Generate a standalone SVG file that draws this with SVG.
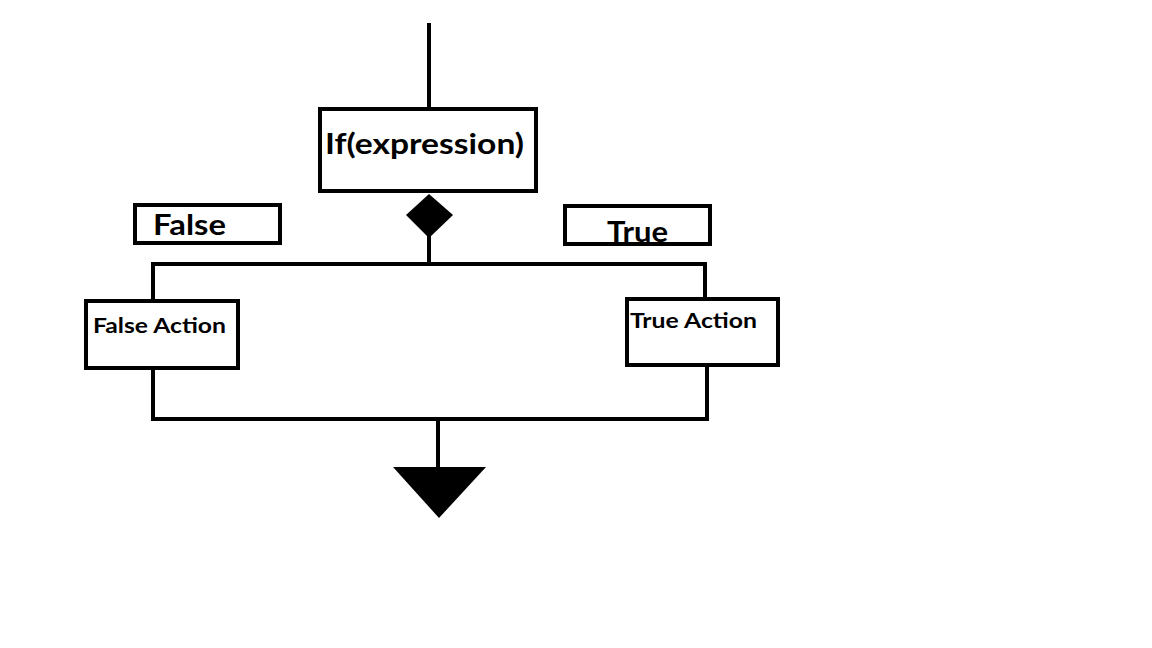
<svg xmlns="http://www.w3.org/2000/svg" width="1152" height="648" viewBox="0 0 1152 648">
<style>
.box{fill:#fff;stroke:#000;stroke-width:4}
.ln{fill:none;stroke:#000;stroke-width:4}
.t{font-family:Lato,"Open Sans","Liberation Sans",sans-serif;font-weight:bold;fill:#000}
</style>
<rect width="1152" height="648" fill="#fff"/>
<g id="connectors">
<line class="ln" x1="429" y1="23" x2="429" y2="109"/>
<line class="ln" x1="429" y1="236" x2="429" y2="264"/>
<polyline class="ln" points="153,300 153,264 705,264 705,299"/>
<polyline class="ln" points="153,368 153,419 707,419 707,365"/>
<line class="ln" x1="438" y1="419" x2="438" y2="468"/>
<polygon points="393,467 486,467 439,518" fill="#000"/>
<polygon points="429,194 453,215 429,238 406,215" fill="#000"/>
</g>
<g id="node-if">
<rect class="box" x="320" y="109" width="216" height="82"/>
<text class="t" x="325" y="154" font-size="29" textLength="199" lengthAdjust="spacingAndGlyphs">If(expression)</text>
</g>
<g id="node-false">
<rect class="box" x="135" y="205" width="145" height="38"/>
<text class="t" x="153" y="235" font-size="28" textLength="73" lengthAdjust="spacingAndGlyphs">False</text>
</g>
<g id="node-true">
<rect class="box" x="565" y="206" width="145" height="38"/>
<text class="t" x="607" y="242" font-size="29" textLength="61" lengthAdjust="spacingAndGlyphs">True</text>
</g>
<g id="node-false-action">
<rect class="box" x="86" y="301" width="152" height="67"/>
<text class="t" x="93" y="333" font-size="21" textLength="133" lengthAdjust="spacingAndGlyphs">False Action</text>
</g>
<g id="node-true-action">
<rect class="box" x="627" y="299" width="151" height="66"/>
<text class="t" x="630" y="328" font-size="21" textLength="127" lengthAdjust="spacingAndGlyphs">True Action</text>
</g>
</svg>
